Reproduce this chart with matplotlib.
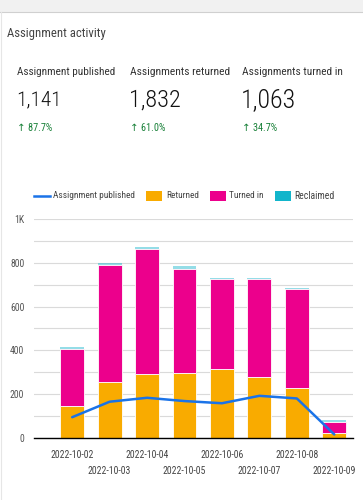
import matplotlib
matplotlib.use("Agg")
import matplotlib.pyplot as plt
from matplotlib.patches import Rectangle
from matplotlib.lines import Line2D
from matplotlib import font_manager
import numpy as np

# pick the narrowest available family
CANDS = ['Roboto Condensed', 'DejaVu Sans Condensed', 'Liberation Sans Narrow',
         'Lato', 'Roboto']
FAM = 'DejaVu Sans'
for c in CANDS:
    try:
        font_manager.findfont(font_manager.FontProperties(family=c),
                              fallback_to_default=False)
        FAM = c
        break
    except Exception:
        continue
plt.rcParams['font.family'] = [FAM, 'DejaVu Sans']

# ---- data ----
dates = ["2022-10-02", "2022-10-03", "2022-10-04", "2022-10-05",
         "2022-10-06", "2022-10-07", "2022-10-08", "2022-10-09"]
returned = [145, 255, 292, 297, 312, 278, 229, 21]
turned_in = [260, 535, 570, 474, 414, 447, 451, 52]
reclaimed = [10, 10, 11, 14, 5, 4, 5, 5]
published = [93, 164, 182, 167, 157, 191, 179, 14]

kpi_titles = ["Assignment published", "Assignments returned", "Assignments turned in"]
kpi_values = ["1,141", "1,832", "1,063"]
kpi_changes = ["87.7%", "61.0%", "34.7%"]

yticks = [0, 200, 400, 600, 800, 1000]
ytick_labels = ["0", "200", "400", "600", "800", "1K"]
legend_labels = ["Assignment published", "Returned", "Turned in", "Reclaimed"]

C_RET = '#F9AB00'
C_TURN = '#EC008C'
C_REC = '#12B5CB'
C_LINE = '#1A73E8'

W, H = 363, 500
fig = plt.figure(figsize=(W / 100, H / 100), dpi=100)
fig.patch.set_facecolor('white')
renderer = fig.canvas.get_renderer()


def fx(px):
    return px / W


def fy(py):
    return 1 - py / H


def width_at(s, size, **kw):
    t = fig.text(0, 0, s, fontsize=size, **kw)
    w = t.get_window_extent(renderer).width
    t.remove()
    return w


def fit(s, target, maxsize=30, **kw):
    w = width_at(s, 10, **kw)
    return min(maxsize, 10 * target / w)


def put(xp, yp, s, target, maxsize=30, **kw):
    size = fit(s, target, maxsize, **{k: v for k, v in kw.items() if k in ('weight', 'family')})
    return fig.text(fx(xp), fy(yp), s, fontsize=size, va='center', ha='left', **kw)


K = 1.1  # slight enlargement: reference glyphs are taller than a plain font of equal width

# top grey band
fig.patches.append(Rectangle((0, fy(12)), 1, 12 / H, transform=fig.transFigure,
                             facecolor='#f1f1f1', edgecolor='none', zorder=0))
fig.add_artist(Line2D([0, 1], [fy(12), fy(12)], transform=fig.transFigure,
                      color='#d0d0d0', lw=0.8))
fig.add_artist(Line2D([fx(1), fx(1)], [fy(12), 0], transform=fig.transFigure,
                      color='#e6e6e6', lw=0.8))

put(7, 33, "Assignment activity", 89 * K, color='#444444')

cols = [17, 130, 242]
title_w = [93, 93, 94]
val_w = [35, 40, 43]
for x, t, v, c, tw, vw in zip(cols, kpi_titles, kpi_values, kpi_changes, title_w, val_w):
    put(x, 72, t, tw * 1.06, color='#333333')
    put(x - 1, 100, v, vw * 1.3, maxsize=24, color='#111111', weight='light')
    put(x, 128, "\u2191 " + c, 32 * K, maxsize=9, color='#188038')

# ---- chart ----
ax = fig.add_axes([fx(34), fy(437.5), fx(353) - fx(34), (437.5 - 219.3) / H])
x = np.arange(len(dates))
bw = 0.64
ret = np.array(returned)
tin = np.array(turned_in)
rec = np.array(reclaimed)
ax.bar(x, ret, width=bw, color=C_RET, edgecolor='white', linewidth=0.6, zorder=2)
ax.bar(x, tin, width=bw, bottom=ret, color=C_TURN, edgecolor='white', linewidth=0.6, zorder=2)
ax.bar(x, rec, width=bw, bottom=ret + tin, color=C_REC, alpha=0.45, edgecolor='none', zorder=2)
ax.plot(x, published, color=C_LINE, lw=1.8, zorder=3, solid_capstyle='round')

ax.set_xlim(-1.02, 7.5)
ax.set_ylim(0, 1000)
ax.set_yticks(yticks)
ax.set_yticklabels(ytick_labels)
ax.set_yticks(np.arange(0, 1001, 100), minor=True)
ax.grid(axis='y', which='both', color='#dadada', lw=0.8, zorder=0)
ax.set_axisbelow(True)
for s in ['top', 'right', 'left']:
    ax.spines[s].set_visible(False)
ax.spines['bottom'].set_color('#000000')
ax.spines['bottom'].set_linewidth(1.0)
ax.spines['bottom'].set_zorder(4)

tick_size = fit("2022-10-02", 41 * 1.05, maxsize=9)
ytick_size = fit("800", 13 * K, maxsize=9)
ax.tick_params(axis='y', which='both', length=0, pad=7, labelsize=ytick_size, labelcolor='#555555')
ax.tick_params(axis='x', length=0, labelsize=tick_size, labelcolor='#444444')
ax.set_xticks(x)
ax.set_xticklabels(dates)
for i, lab in enumerate(ax.get_xticklabels()):
    lab.set_y(0 if i % 2 == 0 else -0.075)
ax.tick_params(axis='x', pad=9)

# legend (manual, placed like the reference)
fig.add_artist(Line2D([fx(34), fx(50)], [fy(196), fy(196)], transform=fig.transFigure,
                      color=C_LINE, lw=1.8))
for x0, col in zip([146, 210, 275], [C_RET, C_TURN, C_REC]):
    fig.patches.append(Rectangle((fx(x0), fy(201)), 16 / W, 10 / H, transform=fig.transFigure,
                                 facecolor=col, edgecolor='none'))
leg_x = [53, 166, 229, 294]
leg_w = [78, 31, 33, 38]
for lx, lab, lw_ in zip(leg_x, legend_labels, leg_w):
    put(lx, 196, lab, lw_ * 1.05, maxsize=9, color='#444444')

fig.savefig("out.png", dpi=100)
